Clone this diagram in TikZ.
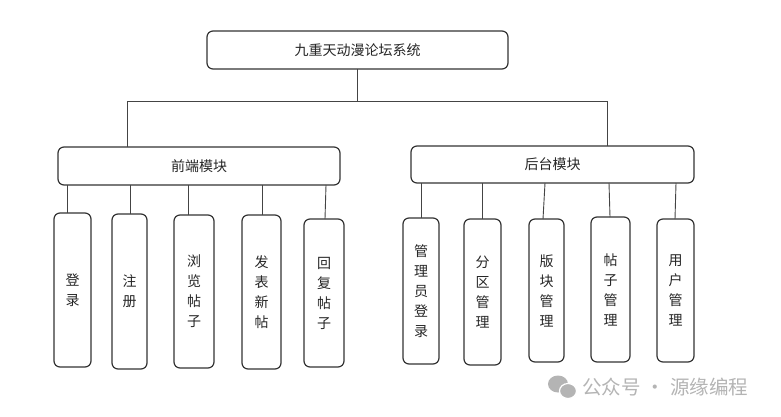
\documentclass[tikz,border=0pt]{standalone}
\usepackage{fontspec}
\usetikzlibrary{positioning,calc}
\newfontfamily\cjk{Noto Sans CJK SC}
\definecolor{frame}{HTML}{333333}
\definecolor{wire}{HTML}{444444}
\definecolor{wmark}{HTML}{B4B4B4}
\tikzset{
  modbox/.style = {rectangle, rounded corners=6pt, draw=frame, line width=1.2pt, fill=white,
                   inner sep=0pt, outer sep=0pt, font=\cjk\fontsize{14}{20}\selectfont, text=black!85},
  leaf/.style   = {modbox, align=center},
  wire/.style   = {draw=wire, line width=0.9pt},
}
\begin{document}
\begin{tikzpicture}[x=1pt,y=-1pt]
\useasboundingbox[fill=white] (0,0) rectangle (781,417);
% root
\node[modbox, minimum width=301pt, minimum height=38pt] (sys) at (357.5,50) {九重天动漫论坛系统};
% modules
\node[modbox, minimum width=282pt, minimum height=38pt] (front) at (199,166) {前端模块};
\node[modbox, minimum width=283pt, minimum height=37pt] (back) at (552.5,164.5) {后台模块};
% bus
\coordinate (busL) at (127,101);
\coordinate (busR) at (607,101);
\coordinate (busM) at (357.5,101);
\draw[wire] (sys) -- (busM);
\draw[wire] (busL |- front.north) -- (busL) -- (busR) -- (busR |- back.north);
% front leaves
\foreach \n/\cx/\cy/\w/\h/\t in {
  f1/72.5/290/37/154/{登\\录},
  f2/129.5/291.5/35/155/{注\\册},
  f3/194/291.5/40/153/{浏\\览\\帖\\子},
  f4/261.5/292/39/154/{发\\表\\新\\帖},
  f5/324/293/40/148/{回\\复\\帖\\子}}
  \node[leaf, minimum width=\w pt, minimum height=\h pt] (\n) at (\cx,\cy) {\t};
% back leaves
\foreach \n/\cx/\cy/\w/\h/\t in {
  b1/421/291/36/146/{管\\理\\员\\登\\录},
  b2/482.5/292/37/146/{分\\区\\管\\理},
  b3/546.5/290.5/35/143/{版\\块\\管\\理},
  b4/610.5/289.5/39/145/{帖\\子\\管\\理},
  b5/675.5/290.5/37/143/{用\\户\\管\\理}}
  \node[leaf, minimum width=\w pt, minimum height=\h pt] (\n) at (\cx,\cy) {\t};
% leaf wires
\foreach \n/\p/\dt/\db in {f1/front/-5.5/-5.5, f2/front/0.5/0.5, f3/front/-6/-6, f4/front/0.5/0.5, f5/front/2/1,
                          b1/back/0/0, b2/back/-0.5/-0.5, b3/back/-1.5/-3.5, b4/back/-1.5/-0.5, b5/back/0.5/-0.5}
  \draw[wire] ([xshift=\dt pt]\n.north |- \p.south) -- ([xshift=\db pt]\n.north);
% watermark
\fill[wmark] (558,384) ellipse (10pt and 8.5pt);
\filldraw[wmark, draw=white, line width=1.2pt] (568,391) ellipse (8.5pt and 7.5pt);
\node[font=\cjk\fontsize{19.5}{20}\selectfont, text=wmark, anchor=west, inner sep=0pt] (wm) at (582,387) {公众号\hspace{5pt}·\hspace{5pt}源缘编程};
\end{tikzpicture}
\end{document}
